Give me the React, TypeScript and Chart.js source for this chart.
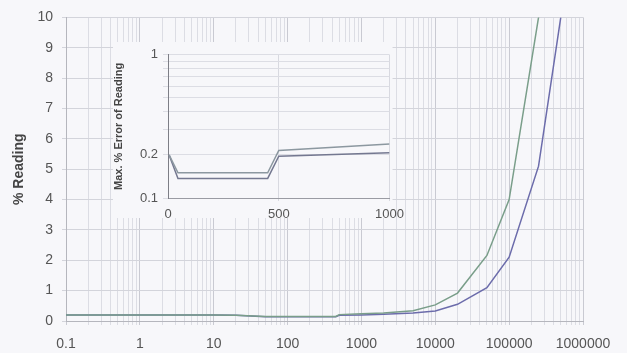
import React, { useEffect, useRef } from "react";
import { Chart, registerables } from "chart.js";

Chart.register(...registerables);

// ---- Main chart data ----
const xValues = [0.1, 1, 10, 20, 50, 100, 200, 450, 500, 1000, 2000, 5000, 10000, 20000, 50000, 100000, 250000, 500000];
const blueSeries = [0.2, 0.2, 0.2, 0.19, 0.14, 0.14, 0.14, 0.14, 0.19, 0.2, 0.22, 0.26, 0.33, 0.55, 1.1, 2.1, 5.1, 10];
const greenSeries = [0.2, 0.2, 0.2, 0.19, 0.15, 0.15, 0.15, 0.15, 0.21, 0.24, 0.26, 0.34, 0.53, 0.92, 2.16, 4.0, 10, 20];
const majorXTicks = [0.1, 1, 10, 100, 1000, 10000, 100000, 1000000];
const xTickLabels = ["0.1", "1", "10", "100", "1000", "10000", "100000", "1000000"];
const yTicks = [0, 1, 2, 3, 4, 5, 6, 7, 8, 9, 10];

// ---- Inset data ----
const insetX = [5, 45, 450, 500, 1000];
const insetBlue = [0.2, 0.137, 0.137, 0.196, 0.207];
const insetGreen = [0.2, 0.15, 0.15, 0.215, 0.238];
const insetXTicks = [0, 500, 1000];
const insetXLabels = ["0", "500", "1000"];
const insetYTicks = [0.1, 0.2, 0.3, 0.4, 0.5, 0.6, 0.7, 0.8, 0.9, 1];
const insetYLabels = ["0.1", "0.2", "", "", "", "", "", "", "", "1"];

const GREEN = "#7a9e8a";
const BLUE = "#6c6cab";
const FONT = "'Liberation Sans', Arial, sans-serif";
const BG = "#f7f7fa";

const allXTicks: number[] = [];
majorXTicks.forEach((m, i) => {
  if (i < majorXTicks.length - 1) {
    for (let k = 1; k <= 9; k++) allXTicks.push(+(m * k).toPrecision(6));
  } else allXTicks.push(m);
});

export default function App() {
  const mainRef = useRef<HTMLCanvasElement>(null);
  const insetRef = useRef<HTMLCanvasElement>(null);

  useEffect(() => {
    document.body.style.margin = "0";
    document.body.style.background = BG;
    const main = new Chart(mainRef.current!, {
      type: "line",
      data: {
        datasets: [
          { data: xValues.map((x, i) => ({ x, y: greenSeries[i] })), borderColor: GREEN, borderWidth: 1.5, pointRadius: 0, tension: 0 },
          { data: xValues.map((x, i) => ({ x, y: blueSeries[i] })), borderColor: BLUE, borderWidth: 1.5, pointRadius: 0, tension: 0 },
        ],
      },
      options: {
        responsive: false,
        animation: false,
        layout: { padding: { top: 16, right: 44, bottom: 0, left: 0 } },
        plugins: { legend: { display: false }, tooltip: { enabled: false } },
        scales: {
          x: {
            type: "logarithmic",
            min: 0.1,
            max: 1000000,
            afterBuildTicks: (scale: any) => {
              scale.ticks = allXTicks.map((v) => ({ value: v }));
            },
            afterFit: (scale: any) => {
              scale.height = 32;
            },
            ticks: {
              autoSkip: false,
              maxRotation: 0,
              padding: 11,
              color: "#555",
              font: { family: FONT, size: 14 },
              callback: (v: any) => {
                const idx = majorXTicks.findIndex((m) => Math.abs(m - v) / m < 1e-6);
                return idx >= 0 ? xTickLabels[idx] : "";
              },
            },
            grid: {
              color: (ctx: any) => {
                const v = ctx.tick?.value;
                return majorXTicks.some((m) => Math.abs(m - v) / m < 1e-6) ? "#c9cad2" : "#dcdde4";
              },
              tickLength: 4,
              lineWidth: 1,
            },
            border: { color: "#b5b6bd" },
          },
          y: {
            type: "linear",
            min: 0,
            max: 10,
            afterBuildTicks: (scale: any) => {
              scale.ticks = yTicks.map((v) => ({ value: v }));
            },
            afterFit: (scale: any) => {
              scale.width = 66;
            },
            ticks: { padding: 9, color: "#555", font: { family: FONT, size: 14 } },
            grid: { color: "#d3d4db", tickLength: 4 },
            border: { color: "#b5b6bd" },
            title: {
              display: true,
              text: "% Reading",
              color: "#444",
              font: { family: FONT, size: 14, weight: "bold" },
              padding: { top: 11, bottom: 0 },
            },
          },
        },
      },
    });

    const bgPlugin = {
      id: "insetBg",
      beforeDraw: (chart: any) => {
        const c = chart.ctx;
        c.save();
        c.fillStyle = BG;
        c.fillRect(3, 0, chart.chartArea.right, chart.height - 4);
        c.restore();
      },
    };

    const inset = new Chart(insetRef.current!, {
      type: "line",
      data: {
        datasets: [
          { data: insetX.map((x, i) => ({ x, y: insetGreen[i] })), borderColor: "#8c98a0", borderWidth: 1.5, pointRadius: 0, tension: 0 },
          { data: insetX.map((x, i) => ({ x, y: insetBlue[i] })), borderColor: "#747890", borderWidth: 1.5, pointRadius: 0, tension: 0 },
        ],
      },
      plugins: [bgPlugin],
      options: {
        responsive: false,
        animation: false,
        layout: { padding: { top: 11, right: 17, bottom: 0, left: 0 } },
        plugins: { legend: { display: false }, tooltip: { enabled: false } },
        scales: {
          x: {
            type: "linear",
            min: 0,
            max: 1000,
            afterBuildTicks: (scale: any) => {
              scale.ticks = insetXTicks.map((v) => ({ value: v }));
            },
            afterFit: (scale: any) => {
              scale.height = 24;
            },
            ticks: {
              maxRotation: 0,
              padding: 6,
              color: "#555",
              font: { family: FONT, size: 13 },
              callback: (_v: any, i: number) => insetXLabels[i],
            },
            grid: {
              color: (ctx: any) => (ctx.tick?.value === 0 ? "rgba(0,0,0,0)" : "#d8d9e0"),
              tickLength: 3,
            },
            border: { color: "#9a9ba3" },
          },
          y: {
            type: "logarithmic",
            min: 0.1,
            max: 1,
            afterBuildTicks: (scale: any) => {
              scale.ticks = insetYTicks.map((v) => ({ value: v }));
            },
            afterFit: (scale: any) => {
              scale.width = 58;
            },
            ticks: {
              autoSkip: false,
              padding: 5,
              color: "#555",
              font: { family: FONT, size: 13 },
              callback: (_v: any, i: number) => insetYLabels[i],
            },
            grid: { color: "#dcdde4", tickLength: 5 },
            border: { color: "#7d7e86" },
            title: {
              display: true,
              text: "Max. % Error of Reading",
              color: "#444",
              font: { family: FONT, size: 11, weight: "bold" },
              padding: { top: 2, bottom: 0 },
            },
          },
        },
      },
    });

    return () => {
      main.destroy();
      inset.destroy();
    };
  }, []);

  return (
    <div style={{ position: "relative", width: 627, height: 353, background: BG }}>
      <canvas ref={mainRef} width={627} height={353} style={{ position: "absolute", left: 0, top: 0 }} />
      <canvas ref={insetRef} width={300} height={180} style={{ position: "absolute", left: 110, top: 42 }} />
    </div>
  );
}
